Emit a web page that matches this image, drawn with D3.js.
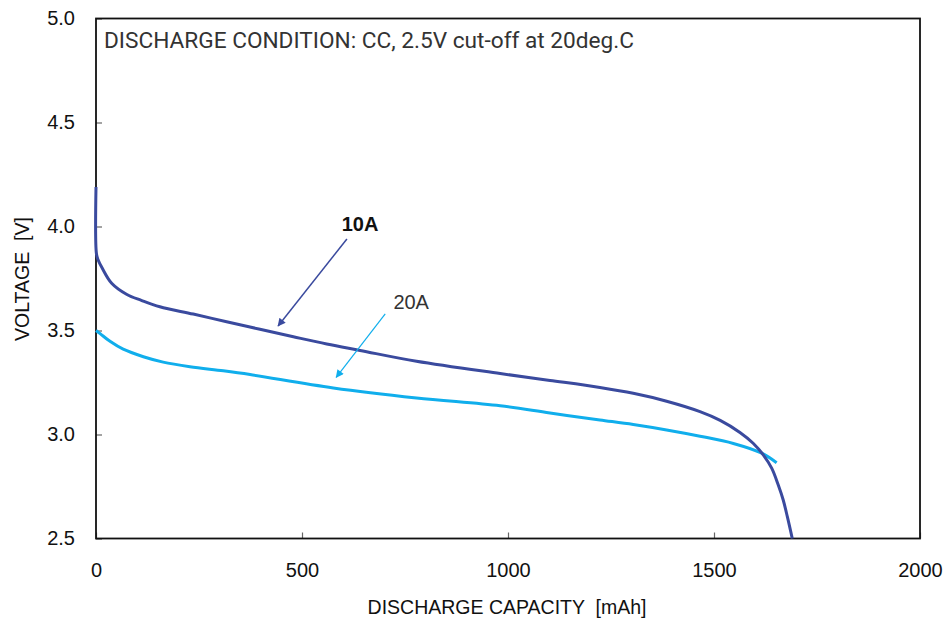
<!DOCTYPE html>
<html><head><meta charset="utf-8">
<script src="https://cdn.jsdelivr.net/npm/d3@7"></script>
<style>html,body{margin:0;padding:0;background:#fff;}svg{display:block;} text{white-space:pre;}</style>
</head><body>
<script>
// Data
const cap10A = [0,1,5,15,38,75,110,155,236,317,398,479,560,641,778,981,1102,1223,1304,1385,1466,1515,1563,1595,1620,1640,1656,1668,1678,1690];
const volt10A = [4.19,3.87,3.84,3.80,3.727,3.673,3.645,3.614,3.579,3.542,3.506,3.470,3.435,3.404,3.352,3.293,3.260,3.226,3.198,3.160,3.110,3.068,3.010,2.958,2.901,2.838,2.757,2.685,2.605,2.500];
const cap20A = [0,10,34,66,115,163,228,309,374,576,778,981,1102,1223,1304,1385,1466,1547,1616,1652];
const volt20A = [3.50,3.485,3.448,3.410,3.374,3.348,3.326,3.306,3.288,3.224,3.176,3.138,3.103,3.070,3.048,3.022,2.992,2.957,2.910,2.864];
const xTicks = [0,500,1000,1500,2000];
const yTicks = [2.5,3.0,3.5,4.0,4.5,5.0];
const titleText = "DISCHARGE CONDITION: CC, 2.5V cut-off at 20deg.C";
const xLabel = "DISCHARGE CAPACITY  [mAh]";
const yLabel = "VOLTAGE  [V]";
// annotations in data units
const ann10A = {text:"10A", label:[641,4.01], from:[609,3.94], to:[442,3.522]};
const ann20A = {text:"20A", label:[765,3.637], from:[702,3.58], to:[583,3.275]};

const W = 943, H = 622;
const m = {left:96, top:18.5, right:23, bottom:83.5};
const iw = W - m.left - m.right, ih = H - m.top - m.bottom;

const svg = d3.select("body").append("svg").attr("width",W).attr("height",H);
const g = svg.append("g").attr("transform",`translate(${m.left},${m.top})`);

const x = d3.scaleLinear().domain([0,2000]).range([0,iw]);
const y = d3.scaleLinear().domain([2.5,5.0]).range([ih,0]);

const c10 = "#3a4a9e", c20 = "#10aeec";
const sans = "'Liberation Sans', Arial, sans-serif";

// axes
const xAxis = d3.axisBottom(x).tickValues(xTicks).tickSize(-6).tickPadding(24).tickFormat(d3.format("d"));
const yAxis = d3.axisLeft(y).tickValues(yTicks).tickSize(-6).tickPadding(21).tickFormat(d3.format(".1f"));
const gx = g.append("g").attr("transform",`translate(0,${ih})`).call(xAxis);
const gy = g.append("g").call(yAxis);
[gx,gy].forEach(a=>{
  a.select(".domain").remove();
  a.attr("font-size",20).attr("font-family",sans);
  a.selectAll(".tick line").attr("stroke","#666").attr("stroke-width",1.2);
  a.selectAll(".tick text").attr("fill","#111");
});

// frame
g.append("rect").attr("x",0).attr("y",0).attr("width",iw).attr("height",ih)
  .attr("fill","none").attr("stroke","#111").attr("stroke-width",1.8);

// lines
const line = d3.line().x(d=>x(d[0])).y(d=>y(d[1])).curve(d3.curveCatmullRom.alpha(0.5));
const d20 = cap20A.map((c,i)=>[c,volt20A[i]]);
const d10 = cap10A.map((c,i)=>[c,volt10A[i]]);
g.append("path").datum(d20).attr("d",line).attr("fill","none").attr("stroke",c20).attr("stroke-width",3);
g.append("path").datum(d10).attr("d",line).attr("fill","none").attr("stroke",c10).attr("stroke-width",3);

// markers
const defs = svg.append("defs");
function marker(id,col){
  defs.append("marker").attr("id",id).attr("viewBox","0 0 10 10").attr("refX",9).attr("refY",5)
    .attr("markerWidth",10).attr("markerHeight",8).attr("markerUnits","userSpaceOnUse").attr("orient","auto")
    .append("path").attr("d","M0,0 L10,5 L0,10 z").attr("fill",col);
}
marker("a10",c10); marker("a20",c20);

g.append("line").attr("x1",x(ann10A.from[0])).attr("y1",y(ann10A.from[1]))
  .attr("x2",x(ann10A.to[0])).attr("y2",y(ann10A.to[1])).attr("stroke",c10).attr("stroke-width",1.5).attr("marker-end","url(#a10)");
g.append("line").attr("x1",x(ann20A.from[0])).attr("y1",y(ann20A.from[1]))
  .attr("x2",x(ann20A.to[0])).attr("y2",y(ann20A.to[1])).attr("stroke",c20).attr("stroke-width",1.2).attr("marker-end","url(#a20)");

g.append("text").attr("x",x(ann10A.label[0])).attr("y",y(ann10A.label[1])).attr("dy","0.35em")
  .attr("text-anchor","middle").attr("font-family",sans).attr("font-weight","bold")
  .attr("font-size",20).attr("fill","#111").text(ann10A.text);
g.append("text").attr("x",x(ann20A.label[0])).attr("y",y(ann20A.label[1])).attr("dy","0.35em")
  .attr("text-anchor","middle").attr("font-family",sans)
  .attr("font-size",20).attr("fill","#333").text(ann20A.text);

// condition title
g.append("text").attr("x",8).attr("y",29.5).attr("font-family","Roboto, sans-serif")
  .attr("font-size",22).attr("fill","#333").attr("textLength",530).attr("lengthAdjust","spacingAndGlyphs").text(titleText);

// axis titles
svg.append("text").attr("x",507).attr("y",614).attr("text-anchor","middle")
  .attr("font-family",sans).attr("font-size",19.5).attr("fill","#111").text(xLabel);
svg.append("text").attr("transform","translate(29,279) rotate(-90)").attr("text-anchor","middle")
  .attr("font-family",sans).attr("font-size",19.5).attr("fill","#111").text(yLabel);
</script>
</body></html>
